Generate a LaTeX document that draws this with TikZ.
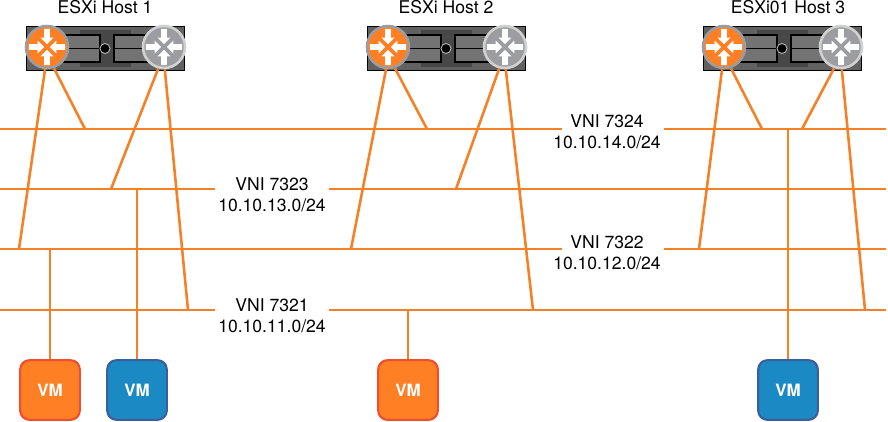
\documentclass[tikz,border=0pt]{standalone}
\usepackage{fontspec}
\setmainfont{TeX Gyre Heros}
\usepackage{xcolor}
\definecolor{wireorange}{HTML}{F68026}
\definecolor{vmorange}{HTML}{FF7F24}
\definecolor{vmred}{HTML}{F04E2E}
\definecolor{vmblue}{HTML}{1B8AC4}
\definecolor{vmedge}{HTML}{3A5F9A}
\definecolor{routergray}{HTML}{9C9DA0}
\tikzset{
    wire/.style={wireorange, line width=2.2pt},
    hostlabel/.style={font=\fontsize{15}{17}\selectfont, anchor=center, inner sep=0pt},
    vnilabel/.style={font=\fontsize{15}{18}\selectfont, align=center, inner sep=0pt},
    vmbox/.style={draw, line width=1.8pt, rounded corners=8pt, minimum size=1.79cm, inner sep=0pt,
        text=white, font=\fontsize{14.5}{16}\selectfont\bfseries},
    vmo/.style={vmbox, fill=vmorange, draw=vmred},
    vmb/.style={vmbox, fill=vmblue, draw=vmedge},
    router/.style={circle, minimum size=1.26cm, inner sep=0pt, line width=2.2pt},
    routero/.style={router, fill=vmorange, draw=routergray},
    routerg/.style={router, fill=routergray, draw=black!18},
}
% one server front, x is the left edge
\newcommand{\hostfront}[1]{
    \fill[black] (#1,26) rectangle ++(159,45);
    \fill[black!62] (#1+1,27) rectangle ++(157,43);
    \fill[black!72] (#1+54,30) rectangle ++(51,37);
    \filldraw[fill=black!55, draw=black, line width=1pt] (#1+35,35) rectangle ++(39,27);
    \filldraw[fill=black!55, draw=black, line width=1pt] (#1+88,35) rectangle ++(39,27);
    \draw[black, line width=1pt] (#1+35,48.5) -- ++(39,0) (#1+88,48.5) -- ++(39,0);
    \filldraw[fill=black, draw=black!30, line width=0.8pt] (#1+79,48.5) circle (5);
}
% four white arrows into the router centre
\newcommand{\routermarks}[1]{
    \foreach \ang in {0,90,180,270} {
        \fill[white, shift={(#1.center)}, rotate=\ang]
            (2.5pt,0pt) -- (8pt,5.5pt) -- (8pt,2.5pt) -- (15.5pt,2.5pt)
            -- (15.5pt,-2.5pt) -- (8pt,-2.5pt) -- (8pt,-5.5pt) -- cycle;
    }
}
\begin{document}
\begin{tikzpicture}[x=0.03cm, y=-0.03cm]
    \useasboundingbox (0,0) rectangle (888,422);

    % hosts
    \hostfront{26}
    \hostfront{367}
    \hostfront{703}
    \node[hostlabel] (t1) at (105,7) {ESXi Host 1};
    \node[hostlabel] (t2) at (446,7) {ESXi Host 2};
    \node[hostlabel] (t3) at (788,7) {ESXi01 Host 3};
    \node[routero] (r1) at (47,47) {};
    \node[routerg] (g1) at (164,47) {};
    \node[routero] (r2) at (388,47) {};
    \node[routerg] (g2) at (505,47) {};
    \node[routero] (r3) at (724,47) {};
    \node[routerg] (g3) at (841,47) {};
    \routermarks{r1}
    \routermarks{g1}
    \routermarks{r2}
    \routermarks{g2}
    \routermarks{r3}
    \routermarks{g3}

    % vni labels
    \node[vnilabel] (v4) at (607,131.5) {VNI 7324\\10.10.14.0/24};
    \node[vnilabel] (v3) at (272,194.5) {VNI 7323\\10.10.13.0/24};
    \node[vnilabel] (v2) at (607,253) {VNI 7322\\10.10.12.0/24};
    \node[vnilabel] (v1) at (272,316) {VNI 7321\\10.10.11.0/24};

    % bus ends
    \coordinate (a4) at (0,129);
    \coordinate (c4) at (562,129);
    \coordinate (d4) at (664,129);
    \coordinate (b4) at (886,129);
    \coordinate (a3) at (0,189);
    \coordinate (c3) at (215,189);
    \coordinate (d3) at (329,189);
    \coordinate (b3) at (886,189);
    \coordinate (a2) at (0,249);
    \coordinate (c2) at (562,249);
    \coordinate (d2) at (664,249);
    \coordinate (b2) at (886,249);
    \coordinate (a1) at (0,310);
    \coordinate (c1) at (215,310);
    \coordinate (d1) at (329,310);
    \coordinate (b1) at (886,310);
    \draw[wire] (a4) -- (c4) (d4) -- (b4);
    \draw[wire] (a3) -- (c3) (d3) -- (b3);
    \draw[wire] (a2) -- (c2) (d2) -- (b2);
    \draw[wire] (a1) -- (c1) (d1) -- (b1);

    % vms
    \node[vmo] (vm1) at (50,390) {VM};
    \node[vmb] (vm2) at (137,390) {VM};
    \node[vmo] (vm3) at (408,390) {VM};
    \node[vmb] (vm4) at (788,390) {VM};

    % uplinks, host 1
    \draw[wire] (r1.-95) -- (19,249);
    \draw[wire] (r1.-72) -- (85,129);
    \draw[wire] (g1.-105) -- (111,189);
    \draw[wire] (g1.-88) -- (188,310);
    % host 2
    \draw[wire] (r2.-95) -- (351,249);
    \draw[wire] (r2.-72) -- (427,129);
    \draw[wire] (g2.-105) -- (456,189);
    \draw[wire] (g2.-88) -- (533,310);
    % host 3
    \draw[wire] (r3.-95) -- (699,249);
    \draw[wire] (r3.-72) -- (762,129);
    \draw[wire] (g3.-108) -- (802,129);
    \draw[wire] (g3.-88) -- (865,310);

    % vm links
    \draw[wire] (vm1.north) -- (50,249);
    \draw[wire] (vm2.north) -- (137,189);
    \draw[wire] (vm3.north) -- (408,310);
    \draw[wire] (vm4.north) -- (788,129);
\end{tikzpicture}
\end{document}
